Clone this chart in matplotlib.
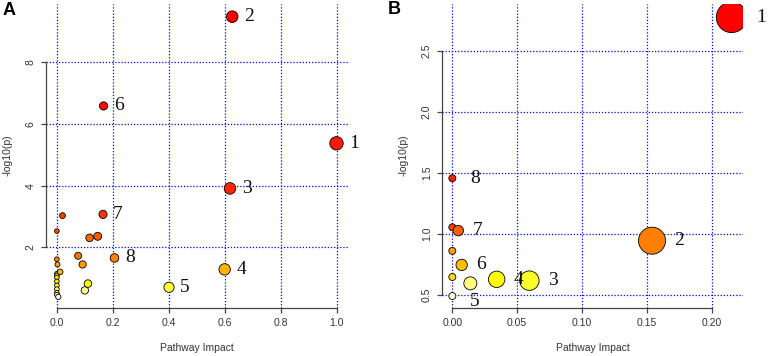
import colorsys

import matplotlib
matplotlib.use("Agg")

import matplotlib.pyplot as plt
import numpy as np

# panel A: pathway impact vs -log10(p)
impact_a = [1.000, 0.627, 0.619, 0.600, 0.401, 0.167, 0.165, 0.206,
            0.020, 0.000, 0.117, 0.146, 0.076, 0.092, 0.111, 0.100,
            0.000, 0.002, 0.012, 0.000, 0.000, 0.000, 0.000, 0.000,
            0.000, 0.000, 0.000, 0.005]
logp_a = [5.37, 9.47, 3.91, 1.29, 0.71, 6.58, 3.07, 1.66,
          3.03, 2.53, 2.31, 2.36, 1.73, 1.45, 0.83, 0.61,
          1.62, 1.45, 1.21, 1.15, 1.10, 1.03, 0.90, 0.77,
          0.65, 0.53, 0.47, 0.40]
labels_a = ["1", "2", "3", "4", "5", "6", "7", "8"] + [""] * 20
xticks_a = [0.0, 0.2, 0.4, 0.6, 0.8, 1.0]
yticks_a = [2, 4, 6, 8]

# panel B
impact_b = [0.2154, 0.154, 0.0594, 0.0342, 0.000, 0.0072, 0.0046, 0.000,
            0.000, 0.000, 0.000, 0.0139]
logp_b = [2.777, 0.943, 0.615, 0.626, 0.489, 0.744, 1.026, 1.456,
          1.053, 0.859, 0.645, 0.593]
labels_b = ["1", "2", "3", "4", "5", "6", "7", "8", "", "", "", ""]
xticks_b = [0.00, 0.05, 0.10, 0.15, 0.20]
yticks_b = [0.5, 1.0, 1.5, 2.0, 2.5]

PX = 0.72  # points per pixel at dpi 100
AXIS_COLOR = "#444444"


def heat_colors(n):
    # same scheme as R's heat.colors()
    j = n // 4
    i = n - j
    cols = []
    for k in range(i):
        h = (1 / 6) * k / (i - 1) if i > 1 else 0
        cols.append(colorsys.hsv_to_rgb(h, 1, 1))
    if j > 0:
        for s in np.linspace(1 - 1 / (2 * j), 1 / (2 * j), j):
            cols.append(colorsys.hsv_to_rgb(1 / 6, s, 1))
    return cols


def draw_panel(ax, impact, logp, labels, xticks, yticks, xlim, ylim,
               r0, k, gap, overrides, fmt):
    x = np.array(impact)
    y = np.array(logp)
    radius = r0 + k * np.sqrt(x)

    heat = heat_colors(len(y))
    order_p = np.argsort(-y, kind="stable")
    colors = [None] * len(y)
    for rank, idx in enumerate(order_p):
        colors[idx] = heat[rank]

    for xv in xticks:
        ax.axvline(xv, color="blue", ls=(0, (1, 1.5)), lw=0.9, zorder=1)
    for yv in yticks:
        ax.axhline(yv, color="blue", ls=(0, (1, 1.5)), lw=0.9, zorder=1)

    order = np.argsort(radius, kind="stable")
    ax.scatter(x[order], y[order], s=(2 * radius[order] * PX) ** 2,
               c=[colors[i] for i in order], edgecolors="black",
               linewidths=0.6, zorder=3)

    for xi, yi, ri, lab in zip(x, y, radius, labels):
        if not lab:
            continue
        dx, dy = overrides.get(lab, (ri + gap, 0))
        ax.annotate(lab, (xi, yi), xytext=(dx * PX, dy * PX),
                    textcoords="offset points", ha="left", va="center",
                    fontsize=14, family="Liberation Serif", color="#111111",
                    zorder=4)

    ax.set_xlim(*xlim)
    ax.set_ylim(*ylim)
    ax.set_xticks(xticks)
    ax.set_yticks(yticks)
    ax.set_xticklabels([fmt.format(v) for v in xticks])
    ax.set_yticklabels([str(v) for v in yticks], rotation=90, va="center")

    for side in ["top", "right"]:
        ax.spines[side].set_visible(False)
    ax.spines["left"].set_bounds(yticks[0], yticks[-1])
    ax.spines["bottom"].set_bounds(xticks[0], xticks[-1])
    for side in ["left", "bottom"]:
        ax.spines[side].set_color(AXIS_COLOR)
        ax.spines[side].set_linewidth(0.9)

    ax.tick_params(direction="out", length=3.6, width=0.9, color=AXIS_COLOR,
                   labelsize=7.5, labelcolor="#333333", pad=3.5)
    for lab in ax.get_xticklabels() + ax.get_yticklabels():
        lab.set_family("Liberation Sans")

    ax.set_xlabel("Pathway Impact", fontsize=7.5, color="#333333",
                  family="Liberation Sans")
    ax.set_ylabel("-log10(p)", fontsize=7.5, color="#333333",
                  family="Liberation Sans")
    ax.xaxis.set_label_coords(0.5, -0.13)
    ax.xaxis.label.set_va("center")
    ax.yaxis.set_label_coords(-0.128, 0.504)
    ax.yaxis.label.set_va("center")
    ax.patch.set_alpha(0)


def main() -> None:
    fig = plt.figure(figsize=(7.68, 3.56), dpi=100)

    top = (356 - 4) / 356
    bottom = (356 - 308.3) / 356
    ax_a = fig.add_axes([45.7 / 768, bottom, (347.7 - 45.7) / 768, top - bottom])
    ax_b = fig.add_axes([441.7 / 768, bottom, (743.3 - 441.7) / 768, top - bottom])

    draw_panel(ax_a, impact_a, logp_a, labels_a, xticks_a, yticks_a,
               (-0.04, 1.04), (0.03, 9.88), r0=2.3, k=4.4, gap=6,
               overrides={}, fmt="{:.1f}")
    draw_panel(ax_b, impact_b, logp_b, labels_b, xticks_b, yticks_b,
               (-0.0082, 0.2244), (0.388, 2.886), r0=3.5, k=25.5, gap=9,
               overrides={"8": (14 + 3.5, 0), "5": (17.5, -5.7)},
               fmt="{:.2f}")
    ax_b.yaxis.set_label_coords((404 - 441.7) / 301.6, 0.504)

    fig.text(3 / 768, 1 - 2 / 356, "A", ha="left", va="top", fontsize=13,
             fontweight="bold", family="Liberation Sans")
    fig.text(388 / 768, 1 - 1 / 356, "B", ha="left", va="top", fontsize=13,
             fontweight="bold", family="Liberation Sans")

    fig.savefig("out.png", dpi=100)
    plt.close(fig)


if __name__ == "__main__":
    main()
